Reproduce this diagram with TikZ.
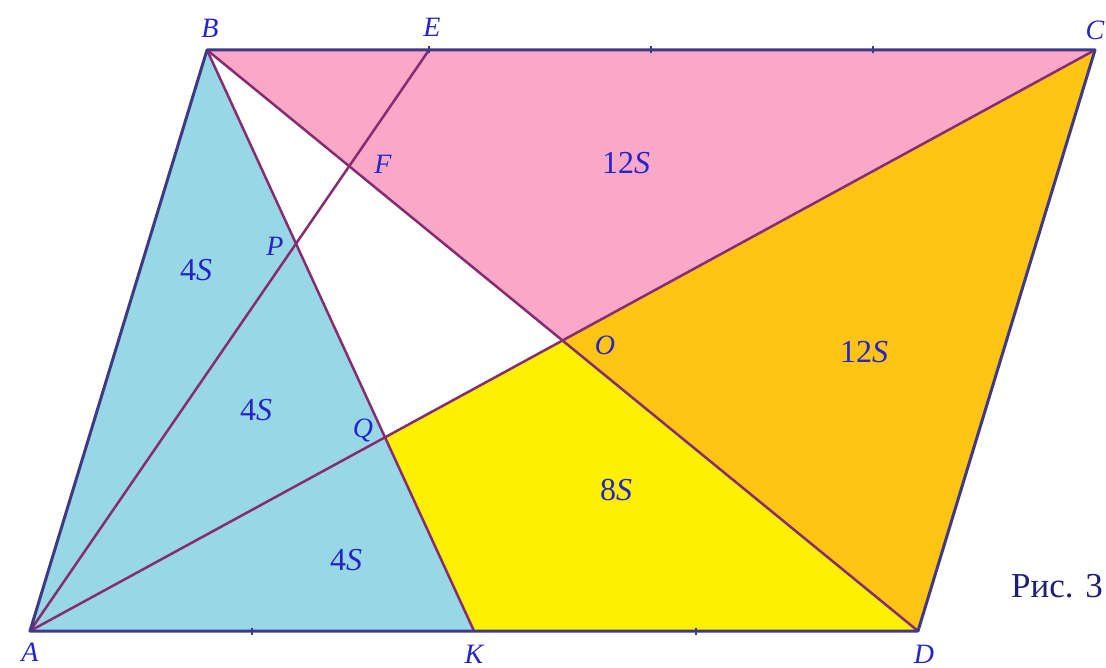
\documentclass[tikz,border=0pt]{standalone}
\usepackage{fontspec}
\setmainfont{Liberation Serif}
\begin{document}
\begin{tikzpicture}[x=1pt,y=-1pt,
  side/.style={draw=sidecol,line width=3pt,line join=round},
  inner/.style={draw=innercol,line width=2.5pt},
  ptlab/.style={text=labcol,font=\fontsize{28}{30}\selectfont\itshape,inner sep=0pt},
  arealab/.style={text=labcol,font=\fontsize{32}{34}\selectfont,inner sep=0pt},
  tick/.style={draw=sidecol,line width=2.4pt}]
\definecolor{sidecol}{HTML}{3E3A86}
\definecolor{innercol}{HTML}{862C70}
\definecolor{labcol}{HTML}{2424C8}
\definecolor{bluefill}{HTML}{98D8E6}
\definecolor{pinkfill}{HTML}{F9A8C8}
\definecolor{orangefill}{HTML}{FFC414}
\definecolor{yellowfill}{HTML}{FFF000}
\definecolor{figcol}{HTML}{1E1E78}
\useasboundingbox (0,0) rectangle (1106,668);
\fill[white] (0,0) rectangle (1106,668);
\coordinate (A) at (30,631);
\coordinate (B) at (207,50);
\coordinate (C) at (1095,50);
\coordinate (D) at (918,631);
\coordinate (K) at (474,631);
\coordinate (E) at (429,50);
\coordinate (O) at (562.5,340.5);
\coordinate (Q) at (intersection of A--C and B--K);
\coordinate (P) at (intersection of A--E and B--K);
\coordinate (F) at (intersection of A--E and B--D);
% fills
\fill[bluefill] (A) -- (B) -- (K) -- cycle;
\fill[pinkfill] (B) -- (C) -- (O) -- cycle;
\fill[orangefill] (O) -- (C) -- (D) -- cycle;
\fill[yellowfill] (Q) -- (O) -- (D) -- (K) -- cycle;
% inner lines
\draw[inner] (A) -- (E);
\draw[inner] (B) -- (K);
\draw[inner] (A) -- (C);
\draw[inner] (B) -- (D);
% sides
\draw[side] (A) -- (B) -- (C) -- (D) -- cycle;
% ticks
\coordinate (t1) at (651,50);
\coordinate (t2) at (873,50);
\coordinate (t3) at (252,631);
\coordinate (t4) at (696,631);
\foreach \t in {t1,t2,t3,t4}{\draw[tick] ([yshift=-3.5]\t) -- ([yshift=3.5]\t);}
\draw[tick] ([yshift=-3.5]E) -- ([yshift=3.5]E);
% point labels
\node[ptlab] (lB) at (210,28) {B};
\node[ptlab] (lE) at (432,27) {E};
\node[ptlab] (lC) at (1095,30) {C};
\node[ptlab] (lA) at (30,652) {A};
\node[ptlab] (lK) at (474,654) {K};
\node[ptlab] (lD) at (924,654) {D};
\node[ptlab] (lO) at (605,345) {O};
\node[ptlab] (lF) at (383,164) {F};
\node[ptlab] (lP) at (275,246) {P};
\node[ptlab] (lQ) at (363,430) {Q};
% area labels
\node[arealab] (s1) at (626,163) {12\textit{S}};
\node[arealab] (s2) at (196,270) {4\textit{S}};
\node[arealab] (s3) at (864,352) {12\textit{S}};
\node[arealab] (s4) at (256,410) {4\textit{S}};
\node[arealab] (s5) at (616,490) {8\textit{S}};
\node[arealab] (s6) at (346,560) {4\textit{S}};
\node[text=figcol,font=\fontsize{35}{40}\selectfont,inner sep=0pt,anchor=east] (fig) at (1103,586) {Рис. 3};
\end{tikzpicture}
\end{document}
